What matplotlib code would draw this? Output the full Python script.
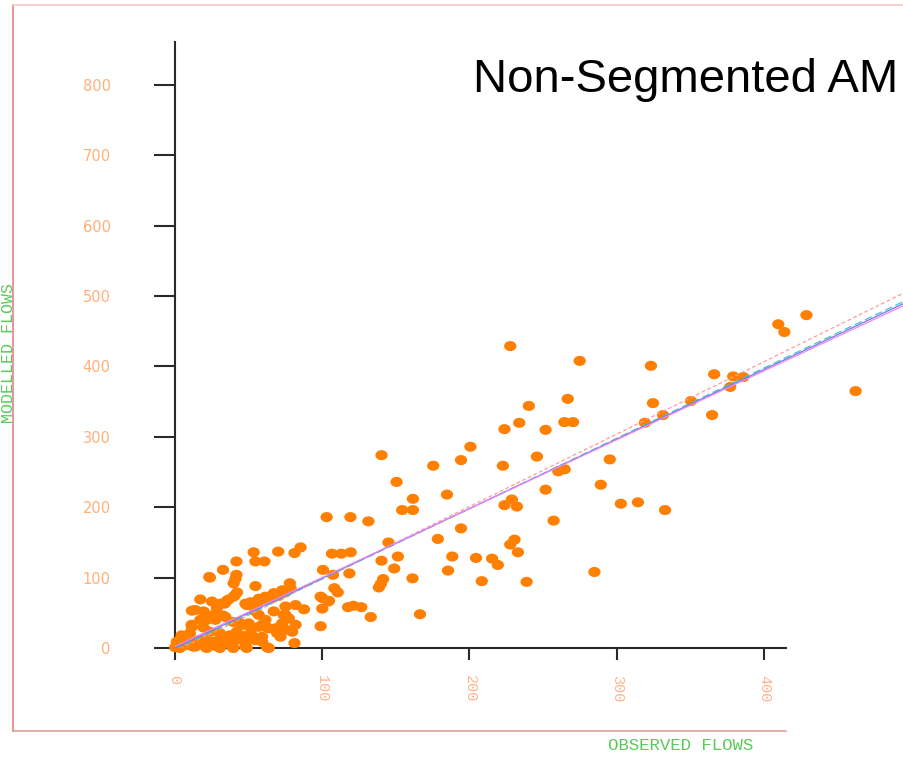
import numpy as np
import matplotlib
matplotlib.use("Agg")
import matplotlib.pyplot as plt
from matplotlib.path import Path
from matplotlib.lines import Line2D

# ---- data ----
observed = [
    409.5, 413.6, 428.6, 461.9, 366, 378.9, 385.7, 376.9, 323.1, 324.5, 350.3, 331.3, 319, 364.6,
    295.2, 289.1, 302.7, 314.3, 332.7, 274.8, 284.8,
    227.7, 240.3, 266.7, 233.8, 223.8, 251.7, 264.4, 270.3, 200.7, 194.3, 245.8, 222.7, 260.3,
    264.6, 251.7, 223.8, 228.8, 232.2, 257.1, 194.3, 230.6, 227.7, 232.9, 204.5, 215.4, 219.3,
    208.4, 238.8,
    140.4, 175.5, 150.6, 184.8, 161.7, 154.4, 161.7, 103.2, 119.3, 131.5, 178.6, 145.1, 106.8,
    113.1, 119.5, 151.5, 188.4, 140.4, 100.7, 149, 185.5, 107.5, 118.6, 161.4, 141.5, 139.9,
    138.6, 108.4, 110.7, 99.1, 104.3, 100.2, 117.7, 121.3, 126.7, 133.1, 166.5, 99.1,
    53.7, 70.3, 81.4, 85.5, 42, 54.9, 61, 32.9, 23.6, 42, 41.3, 40.1, 54.9, 78.2, 78.7, 75.3,
    70.7, 66.2, 62.8, 42.4, 40.1, 36.7, 34, 17.5, 25.4, 31.1, 48.1, 52.6, 57.1, 11.8, 19.7,
    67.3, 75.3, 82.1, 87.8, 28.8, 54.9, 75.3, 17.5, 27.7, 34.5, 11.8, 19.7, 43.5, 50.3, 57.1,
    62.8, 68.5, 75.3, 82.1, 71.9, 5, 1.6, 9.5, 16.3, 23.1, 29.9, 33.3, 41.3, 48.1, 54.9, 14.1,
    20.9, 27.7, 39, 48.1, 62.8, 81.4, 7.3, 0.5,
    41, 35.4, 29.7, 49, 53.5, 21.8, 26.3, 33.1, 11.6, 39.9, 46.7, 52.4, 4.8, 10.4, 24, 30.8,
    37.6, 42.2, 49, 8.2, 19.5, 26.3, 33.1, 39.9, 47.8, 3.6, 12.7, 21.8, 30.8, 39.9, 49,
    73, 67.3, 61.7, 57.1, 51.5, 100.2, 104.8, 74.1, 77.6, 73, 57.1, 61.7, 59.4, 63.9, 69.6,
    52.6, 59.4, 79.8, 59.4, 63.9, 24, 14,
]
modelled = [
    460, 449, 473, 365, 389, 386, 385, 371, 401, 348, 351, 331, 320, 331,
    268, 232, 205, 207, 196, 408, 108,
    429, 344, 354, 320, 311, 310, 321, 321, 286, 267, 272, 259, 251,
    254, 225, 203, 211, 201, 181, 170, 154, 147, 136, 128, 127, 118,
    95, 94,
    274, 259, 236, 218, 212, 196, 196, 186, 186, 180, 155, 150, 134,
    134, 136, 130, 130, 124, 111, 113, 110, 104, 106, 99, 98, 91,
    86, 85, 79, 73, 66, 56, 58, 60, 58, 44, 48, 31,
    136, 137, 135, 143, 123, 123, 123, 111, 101, 104, 98, 92, 88, 92, 85, 79,
    74, 71, 69, 79, 73, 69, 63, 69, 66, 63, 63, 64, 66, 53, 52,
    52, 59, 61, 55, 57, 52, 47, 40, 40, 44, 30, 29, 37, 35, 30,
    29, 28, 26, 33, 16, 16, 9, 11, 11, 9, 11, 16, 14, 14, 11, 2,
    2, 3, 3, 2, 1, 7, 4, 1,
    75, 67, 61, 61, 59, 40, 47, 46, 33, 37, 33, 28, 18, 21, 23, 21,
    18, 23, 18, 9, 11, 9, 7, 9, 8, 0, 2, 0, 0, 0, 0,
    82, 78, 73, 70, 65, 71, 67, 47, 42, 35, 47, 40, 33, 28, 21,
    18, 16, 23, 9, 0, 100, 54,
]

# fitted lines: (slope, intercept)
fit_slopes = [1.03, 1.0, 0.99, 0.98]
fit_intercepts = [-5, -2, 0, 2]
fit_colors = ["#ff9a9a", "#45c4c4", "#7777ee", "#ee88ee"]
fit_styles = [(0, (3, 2)), (0, (6, 3)), "-", "-"]

x_ticks = [0, 100, 200, 300, 400]
y_ticks = [0, 100, 200, 300, 400, 500, 600, 700, 800]

title = "Non-Segmented AM"
xlabel = "OBSERVED FLOWS"
ylabel = "MODELLED FLOWS"

# ---- figure ----
W, H = 904, 757
fig = plt.figure(figsize=(W / 100, H / 100), dpi=100)
fig.patch.set_facecolor("white")

ox, oy = 174.5, 648.0
px_x = 1.4745
px_y = 0.70375
ax = fig.add_axes([ox / W, (H - oy) / H, (W - ox) / W, oy / H])
ax.set_xlim(0, (W - ox) / px_x)
ax.set_ylim(0, oy / px_y)
ax.patch.set_alpha(0)

# elliptical marker
t = np.linspace(0, 2 * np.pi, 40)
ell = Path(np.column_stack([0.5 * np.cos(t), 0.41 * np.sin(t)]), closed=True)
ax.scatter(observed, modelled, marker=ell, s=78, c="#ff7f00", edgecolors="none",
           zorder=3, clip_on=False)

xx = np.array([0, 520])
for m, b, c, ls in zip(fit_slopes, fit_intercepts, fit_colors, fit_styles):
    ax.plot(xx, m * xx + b, color=c, linestyle=ls, linewidth=0.9, zorder=4)

for s in ["top", "right"]:
    ax.spines[s].set_visible(False)
ax.spines["left"].set_bounds(0, 861)
ax.spines["bottom"].set_bounds(0, 415)
for s in ["left", "bottom"]:
    ax.spines[s].set_linewidth(1.5)
    ax.spines[s].set_color("#2a2a2a")
    ax.spines[s].set_zorder(2)

ax.set_xticks(x_ticks)
ax.set_yticks(y_ticks)
ax.set_xticklabels([str(v) for v in x_ticks], rotation=-90, family="Liberation Mono",
                   fontsize=11, color="#ffb48c")
ax.set_yticklabels([str(v) for v in y_ticks], family="DejaVu Sans", fontsize=10.5,
                   color="#ffb07a")
ax.tick_params(axis="y", length=15, width=1.5, color="#2a2a2a", pad=31)
ax.tick_params(axis="x", length=8.5, width=1.5, color="#2a2a2a", pad=11)

# axis titles
fig.text(681 / W, (H - 745) / H, xlabel, family="Liberation Mono", fontsize=12.5,
         color="#5cc85c", ha="center", va="center")
fig.text(9 / W, (H - 353) / H, ylabel, family="Liberation Mono", fontsize=12,
         color="#5cc85c", ha="center", va="center", rotation=90)

# chart title
fig.text(473 / W, (H - 92) / H, title, family="Liberation Sans", fontsize=34,
         color="black", ha="left", va="baseline")

# outer frame
fx = 13 / W
ft = (H - 5) / H
fb = (H - 731) / H
fig.add_artist(Line2D([fx, fx], [fb, ft], transform=fig.transFigure, color="#e07a7a", lw=1.1))
fig.add_artist(Line2D([fx, 1.0], [ft, ft], transform=fig.transFigure, color="#f0c4c4", lw=1.1))
fig.add_artist(Line2D([fx, 786 / W], [fb, fb], transform=fig.transFigure, color="#e09494", lw=1.1))

fig.savefig("out.png", dpi=100)
